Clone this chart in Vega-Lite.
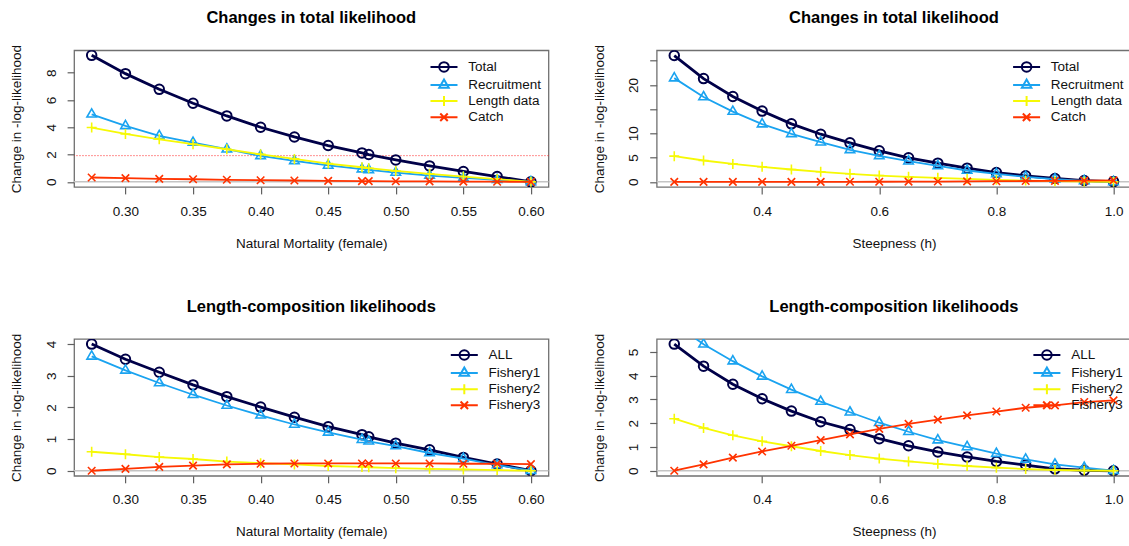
{
"$schema": "https://vega.github.io/schema/vega-lite/v6.json",
"background": "white",
"padding": {"left": 8.1, "top": 9.3, "right": 0, "bottom": 0},
"datasets": {
"p1": [
{"x":0.275,"series":"Total","y":9.27},{"x":0.3,"series":"Total","y":7.93},{"x":0.325,"series":"Total","y":6.78},{"x":0.35,"series":"Total","y":5.76},{"x":0.375,"series":"Total","y":4.83},{"x":0.4,"series":"Total","y":4.0},{"x":0.425,"series":"Total","y":3.29},{"x":0.45,"series":"Total","y":2.66},{"x":0.475,"series":"Total","y":2.12},{"x":0.48,"series":"Total","y":2.0},{"x":0.5,"series":"Total","y":1.61},{"x":0.525,"series":"Total","y":1.17},{"x":0.55,"series":"Total","y":0.76},{"x":0.575,"series":"Total","y":0.39},{"x":0.6,"series":"Total","y":0},
{"x":0.275,"series":"Recruitment","y":4.95},{"x":0.3,"series":"Recruitment","y":4.1},{"x":0.325,"series":"Recruitment","y":3.37},{"x":0.35,"series":"Recruitment","y":2.88},{"x":0.375,"series":"Recruitment","y":2.39},{"x":0.4,"series":"Recruitment","y":1.9},{"x":0.425,"series":"Recruitment","y":1.54},{"x":0.45,"series":"Recruitment","y":1.2},{"x":0.475,"series":"Recruitment","y":0.93},{"x":0.48,"series":"Recruitment","y":0.88},{"x":0.5,"series":"Recruitment","y":0.68},{"x":0.525,"series":"Recruitment","y":0.46},{"x":0.55,"series":"Recruitment","y":0.29},{"x":0.575,"series":"Recruitment","y":0.15},{"x":0.6,"series":"Recruitment","y":0},
{"x":0.275,"series":"Length data","y":3.98},{"x":0.3,"series":"Length data","y":3.51},{"x":0.325,"series":"Length data","y":3.12},{"x":0.35,"series":"Length data","y":2.76},{"x":0.375,"series":"Length data","y":2.39},{"x":0.4,"series":"Length data","y":2.02},{"x":0.425,"series":"Length data","y":1.68},{"x":0.45,"series":"Length data","y":1.34},{"x":0.475,"series":"Length data","y":1.07},{"x":0.48,"series":"Length data","y":1.0},{"x":0.5,"series":"Length data","y":0.8},{"x":0.525,"series":"Length data","y":0.59},{"x":0.55,"series":"Length data","y":0.39},{"x":0.575,"series":"Length data","y":0.2},{"x":0.6,"series":"Length data","y":0},
{"x":0.275,"series":"Catch","y":0.32},{"x":0.3,"series":"Catch","y":0.27},{"x":0.325,"series":"Catch","y":0.22},{"x":0.35,"series":"Catch","y":0.19},{"x":0.375,"series":"Catch","y":0.15},{"x":0.4,"series":"Catch","y":0.12},{"x":0.425,"series":"Catch","y":0.1},{"x":0.45,"series":"Catch","y":0.07},{"x":0.475,"series":"Catch","y":0.05},{"x":0.48,"series":"Catch","y":0.05},{"x":0.5,"series":"Catch","y":0.04},{"x":0.525,"series":"Catch","y":0.03},{"x":0.55,"series":"Catch","y":0.02},{"x":0.575,"series":"Catch","y":0.01},{"x":0.6,"series":"Catch","y":0}
],
"p2": [
{"x":0.25,"series":"Total","y":26.06},{"x":0.3,"series":"Total","y":21.3},{"x":0.35,"series":"Total","y":17.6},{"x":0.4,"series":"Total","y":14.6},{"x":0.45,"series":"Total","y":11.96},{"x":0.5,"series":"Total","y":9.83},{"x":0.55,"series":"Total","y":8.04},{"x":0.6,"series":"Total","y":6.39},{"x":0.65,"series":"Total","y":4.95},{"x":0.7,"series":"Total","y":3.85},{"x":0.75,"series":"Total","y":2.82},{"x":0.8,"series":"Total","y":1.92},{"x":0.85,"series":"Total","y":1.24},{"x":0.9,"series":"Total","y":0.69},{"x":0.95,"series":"Total","y":0.27},{"x":1.0,"series":"Total","y":0.05},
{"x":0.25,"series":"Recruitment","y":21.4},{"x":0.3,"series":"Recruitment","y":17.5},{"x":0.35,"series":"Recruitment","y":14.5},{"x":0.4,"series":"Recruitment","y":11.9},{"x":0.45,"series":"Recruitment","y":9.9},{"x":0.5,"series":"Recruitment","y":8.18},{"x":0.55,"series":"Recruitment","y":6.6},{"x":0.6,"series":"Recruitment","y":5.36},{"x":0.65,"series":"Recruitment","y":4.26},{"x":0.7,"series":"Recruitment","y":3.3},{"x":0.75,"series":"Recruitment","y":2.34},{"x":0.8,"series":"Recruitment","y":1.65},{"x":0.85,"series":"Recruitment","y":1.03},{"x":0.9,"series":"Recruitment","y":0.55},{"x":0.95,"series":"Recruitment","y":0.2},{"x":1.0,"series":"Recruitment","y":0},
{"x":0.25,"series":"Length data","y":5.3},{"x":0.3,"series":"Length data","y":4.4},{"x":0.35,"series":"Length data","y":3.7},{"x":0.4,"series":"Length data","y":3.1},{"x":0.45,"series":"Length data","y":2.55},{"x":0.5,"series":"Length data","y":2.07},{"x":0.55,"series":"Length data","y":1.66},{"x":0.6,"series":"Length data","y":1.3},{"x":0.65,"series":"Length data","y":1.03},{"x":0.7,"series":"Length data","y":0.82},{"x":0.75,"series":"Length data","y":0.62},{"x":0.8,"series":"Length data","y":0.41},{"x":0.85,"series":"Length data","y":0.27},{"x":0.9,"series":"Length data","y":0.14},{"x":0.95,"series":"Length data","y":0.07},{"x":1.0,"series":"Length data","y":0},
{"x":0.25,"series":"Catch","y":0},{"x":0.3,"series":"Catch","y":0},{"x":0.35,"series":"Catch","y":0},{"x":0.4,"series":"Catch","y":0},{"x":0.45,"series":"Catch","y":0},{"x":0.5,"series":"Catch","y":0},{"x":0.55,"series":"Catch","y":0.01},{"x":0.6,"series":"Catch","y":0.02},{"x":0.65,"series":"Catch","y":0.04},{"x":0.7,"series":"Catch","y":0.06},{"x":0.75,"series":"Catch","y":0.09},{"x":0.8,"series":"Catch","y":0.13},{"x":0.85,"series":"Catch","y":0.17},{"x":0.9,"series":"Catch","y":0.21},{"x":0.95,"series":"Catch","y":0.25},{"x":1.0,"series":"Catch","y":0.3}
],
"p3": [
{"x":0.275,"series":"ALL","y":4.0},{"x":0.3,"series":"ALL","y":3.52},{"x":0.325,"series":"ALL","y":3.11},{"x":0.35,"series":"ALL","y":2.71},{"x":0.375,"series":"ALL","y":2.34},{"x":0.4,"series":"ALL","y":2.01},{"x":0.425,"series":"ALL","y":1.69},{"x":0.45,"series":"ALL","y":1.39},{"x":0.475,"series":"ALL","y":1.14},{"x":0.48,"series":"ALL","y":1.07},{"x":0.5,"series":"ALL","y":0.87},{"x":0.525,"series":"ALL","y":0.66},{"x":0.55,"series":"ALL","y":0.42},{"x":0.575,"series":"ALL","y":0.21},{"x":0.6,"series":"ALL","y":0},
{"x":0.275,"series":"Fishery1","y":3.61},{"x":0.3,"series":"Fishery1","y":3.17},{"x":0.325,"series":"Fishery1","y":2.77},{"x":0.35,"series":"Fishery1","y":2.4},{"x":0.375,"series":"Fishery1","y":2.06},{"x":0.4,"series":"Fishery1","y":1.75},{"x":0.425,"series":"Fishery1","y":1.46},{"x":0.45,"series":"Fishery1","y":1.21},{"x":0.475,"series":"Fishery1","y":0.98},{"x":0.48,"series":"Fishery1","y":0.93},{"x":0.5,"series":"Fishery1","y":0.78},{"x":0.525,"series":"Fishery1","y":0.56},{"x":0.55,"series":"Fishery1","y":0.38},{"x":0.575,"series":"Fishery1","y":0.18},{"x":0.6,"series":"Fishery1","y":0},
{"x":0.275,"series":"Fishery2","y":0.6},{"x":0.3,"series":"Fishery2","y":0.52},{"x":0.325,"series":"Fishery2","y":0.43},{"x":0.35,"series":"Fishery2","y":0.37},{"x":0.375,"series":"Fishery2","y":0.29},{"x":0.4,"series":"Fishery2","y":0.24},{"x":0.425,"series":"Fishery2","y":0.2},{"x":0.45,"series":"Fishery2","y":0.15},{"x":0.475,"series":"Fishery2","y":0.12},{"x":0.48,"series":"Fishery2","y":0.11},{"x":0.5,"series":"Fishery2","y":0.08},{"x":0.525,"series":"Fishery2","y":0.06},{"x":0.55,"series":"Fishery2","y":0.04},{"x":0.575,"series":"Fishery2","y":0.02},{"x":0.6,"series":"Fishery2","y":0},
{"x":0.275,"series":"Fishery3","y":0},{"x":0.3,"series":"Fishery3","y":0.06},{"x":0.325,"series":"Fishery3","y":0.12},{"x":0.35,"series":"Fishery3","y":0.16},{"x":0.375,"series":"Fishery3","y":0.2},{"x":0.4,"series":"Fishery3","y":0.22},{"x":0.425,"series":"Fishery3","y":0.23},{"x":0.45,"series":"Fishery3","y":0.23},{"x":0.475,"series":"Fishery3","y":0.23},{"x":0.48,"series":"Fishery3","y":0.23},{"x":0.5,"series":"Fishery3","y":0.23},{"x":0.525,"series":"Fishery3","y":0.23},{"x":0.55,"series":"Fishery3","y":0.22},{"x":0.575,"series":"Fishery3","y":0.22},{"x":0.6,"series":"Fishery3","y":0.21}
],
"p4": [
{"x":0.25,"series":"ALL","y":5.33},{"x":0.3,"series":"ALL","y":4.4},{"x":0.35,"series":"ALL","y":3.64},{"x":0.4,"series":"ALL","y":3.03},{"x":0.45,"series":"ALL","y":2.51},{"x":0.5,"series":"ALL","y":2.06},{"x":0.55,"series":"ALL","y":1.73},{"x":0.6,"series":"ALL","y":1.35},{"x":0.65,"series":"ALL","y":1.05},{"x":0.7,"series":"ALL","y":0.79},{"x":0.75,"series":"ALL","y":0.58},{"x":0.8,"series":"ALL","y":0.39},{"x":0.85,"series":"ALL","y":0.24},{"x":0.9,"series":"ALL","y":0.08},{"x":0.95,"series":"ALL","y":0.02},{"x":1.0,"series":"ALL","y":0},
{"x":0.25,"series":"Fishery1","y":6.2},{"x":0.3,"series":"Fishery1","y":5.32},{"x":0.35,"series":"Fishery1","y":4.61},{"x":0.4,"series":"Fishery1","y":3.97},{"x":0.45,"series":"Fishery1","y":3.41},{"x":0.5,"series":"Fishery1","y":2.91},{"x":0.55,"series":"Fishery1","y":2.46},{"x":0.6,"series":"Fishery1","y":2.02},{"x":0.65,"series":"Fishery1","y":1.64},{"x":0.7,"series":"Fishery1","y":1.29},{"x":0.75,"series":"Fishery1","y":1.0},{"x":0.8,"series":"Fishery1","y":0.72},{"x":0.85,"series":"Fishery1","y":0.48},{"x":0.9,"series":"Fishery1","y":0.27},{"x":0.95,"series":"Fishery1","y":0.13},{"x":1.0,"series":"Fishery1","y":0},
{"x":0.25,"series":"Fishery2","y":2.19},{"x":0.3,"series":"Fishery2","y":1.8},{"x":0.35,"series":"Fishery2","y":1.49},{"x":0.4,"series":"Fishery2","y":1.24},{"x":0.45,"series":"Fishery2","y":1.03},{"x":0.5,"series":"Fishery2","y":0.83},{"x":0.55,"series":"Fishery2","y":0.66},{"x":0.6,"series":"Fishery2","y":0.51},{"x":0.65,"series":"Fishery2","y":0.39},{"x":0.7,"series":"Fishery2","y":0.29},{"x":0.75,"series":"Fishery2","y":0.2},{"x":0.8,"series":"Fishery2","y":0.13},{"x":0.85,"series":"Fishery2","y":0.07},{"x":0.9,"series":"Fishery2","y":0.03},{"x":0.95,"series":"Fishery2","y":0.01},{"x":1.0,"series":"Fishery2","y":0},
{"x":0.25,"series":"Fishery3","y":0},{"x":0.3,"series":"Fishery3","y":0.27},{"x":0.35,"series":"Fishery3","y":0.55},{"x":0.4,"series":"Fishery3","y":0.81},{"x":0.45,"series":"Fishery3","y":1.05},{"x":0.5,"series":"Fishery3","y":1.29},{"x":0.55,"series":"Fishery3","y":1.53},{"x":0.6,"series":"Fishery3","y":1.76},{"x":0.65,"series":"Fishery3","y":1.97},{"x":0.7,"series":"Fishery3","y":2.15},{"x":0.75,"series":"Fishery3","y":2.33},{"x":0.8,"series":"Fishery3","y":2.49},{"x":0.85,"series":"Fishery3","y":2.65},{"x":0.9,"series":"Fishery3","y":2.75},{"x":0.95,"series":"Fishery3","y":2.89},{"x":1.0,"series":"Fishery3","y":2.96}
]
},
"columns": 2,
"spacing": {"row": 151.7, "column": 107.6},
"bounds": "flush",
"resolve": {"scale": {"color": "independent", "shape": "independent"}, "legend": {"color": "independent", "shape": "independent"}},
"concat": [
{
"title": "Changes in total likelihood",
"width": 474.4, "height": 136.6,
"data": {"name": "p1"},
"layer": [
{"mark": {"type": "point", "filled": false, "size": 100, "strokeWidth": 2, "opacity": 0, "clip": true},
 "encoding": {
  "x": {"field": "x", "type": "quantitative", "scale": {"domain": [0.262, 0.613], "nice": false, "zero": false}, "axis": {"values": [0.3, 0.35, 0.4, 0.45, 0.5, 0.55, 0.6], "tickCount": 30, "format": ".2f", "labelOverlap": false, "title": "Natural Mortality (female)"}},
  "y": {"field": "y", "type": "quantitative", "scale": {"domain": [-0.37, 9.64], "nice": false, "zero": false}, "axis": {"values": [0, 2, 4, 6, 8], "tickCount": 30, "format": "d", "labelOverlap": false, "title": "Change in -log-likelihood"}},
  "color": {"field": "series", "type": "nominal", "scale": {"domain": ["Total", "Recruitment", "Length data", "Catch"], "range": ["#000048", "#1AA3F0", "#F6F905", "#FF3300"]}, "legend": {"title": null, "orient": "none", "legendX": 356.4, "legendY": 9.85, "symbolOpacity": 1}},
  "shape": {"field": "series", "type": "nominal", "scale": {"domain": ["Total", "Recruitment", "Length data", "Catch"], "range": ["M-2.7,0L2.7,0M-0.95,0A0.95,0.95,0,1,1,0.95,0A0.95,0.95,0,1,1,-0.95,0Z", "M-2.7,0L2.7,0M0,-1.1L0.95,0.55L-0.95,0.55Z", "M-2.7,0L2.7,0M0,-1L0,1", "M-2.7,0L2.7,0M-0.75,-0.75L0.75,0.75M-0.75,0.75L0.75,-0.75"]}, "legend": {"title": null, "orient": "none", "legendX": 356.4, "legendY": 9.85, "symbolOpacity": 1}}}},
{"data": {"values": [{}]}, "mark": {"type": "rule", "color": "#c4c4c4", "strokeWidth": 1.5}, "encoding": {"y": {"datum": 0}}},
{"data": {"values": [{}]}, "mark": {"type": "rule", "color": "#ff2020", "strokeWidth": 1, "strokeDash": [1, 2]}, "encoding": {"y": {"datum": 1.92}}},
{"transform": [{"filter": "datum.series == 'Total'"}], "mark": {"type": "line", "strokeWidth": 2.8, "clip": true},
 "encoding": {"x": {"field": "x", "type": "quantitative"}, "y": {"field": "y", "type": "quantitative"}, "color": {"field": "series", "type": "nominal", "legend": null}}},
{"transform": [{"filter": "datum.series == 'Total'"}], "mark": {"type": "point", "shape": "M-0.95,0A0.95,0.95,0,1,1,0.95,0A0.95,0.95,0,1,1,-0.95,0Z", "filled": false, "size": 100, "strokeWidth": 2, "opacity": 1, "clip": true},
 "encoding": {"x": {"field": "x", "type": "quantitative"}, "y": {"field": "y", "type": "quantitative"}, "color": {"field": "series", "type": "nominal", "legend": null}}},
{"transform": [{"filter": "datum.series == 'Recruitment'"}], "mark": {"type": "line", "strokeWidth": 1.8, "clip": true},
 "encoding": {"x": {"field": "x", "type": "quantitative"}, "y": {"field": "y", "type": "quantitative"}, "color": {"field": "series", "type": "nominal", "legend": null}}},
{"transform": [{"filter": "datum.series == 'Recruitment'"}], "mark": {"type": "point", "shape": "M0,-1.1L0.95,0.55L-0.95,0.55Z", "filled": false, "size": 100, "strokeWidth": 1.6, "opacity": 1, "clip": true},
 "encoding": {"x": {"field": "x", "type": "quantitative"}, "y": {"field": "y", "type": "quantitative"}, "color": {"field": "series", "type": "nominal", "legend": null}}},
{"transform": [{"filter": "datum.series == 'Length data'"}], "mark": {"type": "line", "strokeWidth": 1.8, "clip": true},
 "encoding": {"x": {"field": "x", "type": "quantitative"}, "y": {"field": "y", "type": "quantitative"}, "color": {"field": "series", "type": "nominal", "legend": null}}},
{"transform": [{"filter": "datum.series == 'Length data'"}], "mark": {"type": "point", "shape": "M-1,0L1,0M0,-1L0,1", "filled": false, "size": 100, "strokeWidth": 1.6, "opacity": 1, "clip": true},
 "encoding": {"x": {"field": "x", "type": "quantitative"}, "y": {"field": "y", "type": "quantitative"}, "color": {"field": "series", "type": "nominal", "legend": null}}},
{"transform": [{"filter": "datum.series == 'Catch'"}], "mark": {"type": "line", "strokeWidth": 1.8, "clip": true},
 "encoding": {"x": {"field": "x", "type": "quantitative"}, "y": {"field": "y", "type": "quantitative"}, "color": {"field": "series", "type": "nominal", "legend": null}}},
{"transform": [{"filter": "datum.series == 'Catch'"}], "mark": {"type": "point", "shape": "M-0.75,-0.75L0.75,0.75M-0.75,0.75L0.75,-0.75", "filled": false, "size": 100, "strokeWidth": 1.6, "opacity": 1, "clip": true},
 "encoding": {"x": {"field": "x", "type": "quantitative"}, "y": {"field": "y", "type": "quantitative"}, "color": {"field": "series", "type": "nominal", "legend": null}}}
]
},
{
"title": "Changes in total likelihood",
"width": 474.4, "height": 136.6,
"data": {"name": "p2"},
"layer": [
{"mark": {"type": "point", "filled": false, "size": 100, "strokeWidth": 2, "opacity": 0, "clip": true},
 "encoding": {
  "x": {"field": "x", "type": "quantitative", "scale": {"domain": [0.22, 1.03], "nice": false, "zero": false}, "axis": {"values": [0.4, 0.6, 0.8, 1.0], "tickCount": 30, "format": ".1f", "labelOverlap": false, "title": "Steepness (h)"}},
  "y": {"field": "y", "type": "quantitative", "scale": {"domain": [-1.044, 27.14], "nice": false, "zero": false}, "axis": {"values": [0, 5, 10, 15, 20, 25], "tickCount": 30, "format": "d", "labelOverlap": false, "labelExpr": "datum.value == 15 || datum.value == 25 ? '' : datum.label", "title": "Change in -log-likelihood"}},
  "color": {"field": "series", "type": "nominal", "scale": {"domain": ["Total", "Recruitment", "Length data", "Catch"], "range": ["#000048", "#1AA3F0", "#F6F905", "#FF3300"]}, "legend": {"title": null, "orient": "none", "legendX": 356.4, "legendY": 9.85, "symbolOpacity": 1}},
  "shape": {"field": "series", "type": "nominal", "scale": {"domain": ["Total", "Recruitment", "Length data", "Catch"], "range": ["M-2.7,0L2.7,0M-0.95,0A0.95,0.95,0,1,1,0.95,0A0.95,0.95,0,1,1,-0.95,0Z", "M-2.7,0L2.7,0M0,-1.1L0.95,0.55L-0.95,0.55Z", "M-2.7,0L2.7,0M0,-1L0,1", "M-2.7,0L2.7,0M-0.75,-0.75L0.75,0.75M-0.75,0.75L0.75,-0.75"]}, "legend": {"title": null, "orient": "none", "legendX": 356.4, "legendY": 9.85, "symbolOpacity": 1}}}},
{"data": {"values": [{}]}, "mark": {"type": "rule", "color": "#c4c4c4", "strokeWidth": 1.5}, "encoding": {"y": {"datum": 0}}},
{"transform": [{"filter": "datum.series == 'Total'"}], "mark": {"type": "line", "strokeWidth": 2.8, "clip": true},
 "encoding": {"x": {"field": "x", "type": "quantitative"}, "y": {"field": "y", "type": "quantitative"}, "color": {"field": "series", "type": "nominal", "legend": null}}},
{"transform": [{"filter": "datum.series == 'Total'"}], "mark": {"type": "point", "shape": "M-0.95,0A0.95,0.95,0,1,1,0.95,0A0.95,0.95,0,1,1,-0.95,0Z", "filled": false, "size": 100, "strokeWidth": 2, "opacity": 1, "clip": true},
 "encoding": {"x": {"field": "x", "type": "quantitative"}, "y": {"field": "y", "type": "quantitative"}, "color": {"field": "series", "type": "nominal", "legend": null}}},
{"transform": [{"filter": "datum.series == 'Recruitment'"}], "mark": {"type": "line", "strokeWidth": 1.8, "clip": true},
 "encoding": {"x": {"field": "x", "type": "quantitative"}, "y": {"field": "y", "type": "quantitative"}, "color": {"field": "series", "type": "nominal", "legend": null}}},
{"transform": [{"filter": "datum.series == 'Recruitment'"}], "mark": {"type": "point", "shape": "M0,-1.1L0.95,0.55L-0.95,0.55Z", "filled": false, "size": 100, "strokeWidth": 1.6, "opacity": 1, "clip": true},
 "encoding": {"x": {"field": "x", "type": "quantitative"}, "y": {"field": "y", "type": "quantitative"}, "color": {"field": "series", "type": "nominal", "legend": null}}},
{"transform": [{"filter": "datum.series == 'Length data'"}], "mark": {"type": "line", "strokeWidth": 1.8, "clip": true},
 "encoding": {"x": {"field": "x", "type": "quantitative"}, "y": {"field": "y", "type": "quantitative"}, "color": {"field": "series", "type": "nominal", "legend": null}}},
{"transform": [{"filter": "datum.series == 'Length data'"}], "mark": {"type": "point", "shape": "M-1,0L1,0M0,-1L0,1", "filled": false, "size": 100, "strokeWidth": 1.6, "opacity": 1, "clip": true},
 "encoding": {"x": {"field": "x", "type": "quantitative"}, "y": {"field": "y", "type": "quantitative"}, "color": {"field": "series", "type": "nominal", "legend": null}}},
{"transform": [{"filter": "datum.series == 'Catch'"}], "mark": {"type": "line", "strokeWidth": 1.8, "clip": true},
 "encoding": {"x": {"field": "x", "type": "quantitative"}, "y": {"field": "y", "type": "quantitative"}, "color": {"field": "series", "type": "nominal", "legend": null}}},
{"transform": [{"filter": "datum.series == 'Catch'"}], "mark": {"type": "point", "shape": "M-0.75,-0.75L0.75,0.75M-0.75,0.75L0.75,-0.75", "filled": false, "size": 100, "strokeWidth": 1.6, "opacity": 1, "clip": true},
 "encoding": {"x": {"field": "x", "type": "quantitative"}, "y": {"field": "y", "type": "quantitative"}, "color": {"field": "series", "type": "nominal", "legend": null}}}
]
},
{
"title": "Length-composition likelihoods",
"width": 474.4, "height": 136.8,
"data": {"name": "p3"},
"layer": [
{"mark": {"type": "point", "filled": false, "size": 100, "strokeWidth": 2, "opacity": 0, "clip": true},
 "encoding": {
  "x": {"field": "x", "type": "quantitative", "scale": {"domain": [0.262, 0.613], "nice": false, "zero": false}, "axis": {"values": [0.3, 0.35, 0.4, 0.45, 0.5, 0.55, 0.6], "tickCount": 30, "format": ".2f", "labelOverlap": false, "title": "Natural Mortality (female)"}},
  "y": {"field": "y", "type": "quantitative", "scale": {"domain": [-0.16, 4.16], "nice": false, "zero": false}, "axis": {"values": [0, 1, 2, 3, 4], "tickCount": 30, "format": "d", "labelOverlap": false, "title": "Change in -log-likelihood"}},
  "color": {"field": "series", "type": "nominal", "scale": {"domain": ["ALL", "Fishery1", "Fishery2", "Fishery3"], "range": ["#000048", "#1AA3F0", "#F6F905", "#FF3300"]}, "legend": {"title": null, "orient": "none", "legendX": 376.7, "legendY": 9.25, "symbolOpacity": 1}},
  "shape": {"field": "series", "type": "nominal", "scale": {"domain": ["ALL", "Fishery1", "Fishery2", "Fishery3"], "range": ["M-2.7,0L2.7,0M-0.95,0A0.95,0.95,0,1,1,0.95,0A0.95,0.95,0,1,1,-0.95,0Z", "M-2.7,0L2.7,0M0,-1.1L0.95,0.55L-0.95,0.55Z", "M-2.7,0L2.7,0M0,-1L0,1", "M-2.7,0L2.7,0M-0.75,-0.75L0.75,0.75M-0.75,0.75L0.75,-0.75"]}, "legend": {"title": null, "orient": "none", "legendX": 376.7, "legendY": 9.25, "symbolOpacity": 1}}}},
{"data": {"values": [{}]}, "mark": {"type": "rule", "color": "#c4c4c4", "strokeWidth": 1.5}, "encoding": {"y": {"datum": 0}}},
{"transform": [{"filter": "datum.series == 'ALL'"}], "mark": {"type": "line", "strokeWidth": 2.8, "clip": true},
 "encoding": {"x": {"field": "x", "type": "quantitative"}, "y": {"field": "y", "type": "quantitative"}, "color": {"field": "series", "type": "nominal", "legend": null}}},
{"transform": [{"filter": "datum.series == 'ALL'"}], "mark": {"type": "point", "shape": "M-0.95,0A0.95,0.95,0,1,1,0.95,0A0.95,0.95,0,1,1,-0.95,0Z", "filled": false, "size": 100, "strokeWidth": 2, "opacity": 1, "clip": true},
 "encoding": {"x": {"field": "x", "type": "quantitative"}, "y": {"field": "y", "type": "quantitative"}, "color": {"field": "series", "type": "nominal", "legend": null}}},
{"transform": [{"filter": "datum.series == 'Fishery1'"}], "mark": {"type": "line", "strokeWidth": 1.8, "clip": true},
 "encoding": {"x": {"field": "x", "type": "quantitative"}, "y": {"field": "y", "type": "quantitative"}, "color": {"field": "series", "type": "nominal", "legend": null}}},
{"transform": [{"filter": "datum.series == 'Fishery1'"}], "mark": {"type": "point", "shape": "M0,-1.1L0.95,0.55L-0.95,0.55Z", "filled": false, "size": 100, "strokeWidth": 1.6, "opacity": 1, "clip": true},
 "encoding": {"x": {"field": "x", "type": "quantitative"}, "y": {"field": "y", "type": "quantitative"}, "color": {"field": "series", "type": "nominal", "legend": null}}},
{"transform": [{"filter": "datum.series == 'Fishery2'"}], "mark": {"type": "line", "strokeWidth": 1.8, "clip": true},
 "encoding": {"x": {"field": "x", "type": "quantitative"}, "y": {"field": "y", "type": "quantitative"}, "color": {"field": "series", "type": "nominal", "legend": null}}},
{"transform": [{"filter": "datum.series == 'Fishery2'"}], "mark": {"type": "point", "shape": "M-1,0L1,0M0,-1L0,1", "filled": false, "size": 100, "strokeWidth": 1.6, "opacity": 1, "clip": true},
 "encoding": {"x": {"field": "x", "type": "quantitative"}, "y": {"field": "y", "type": "quantitative"}, "color": {"field": "series", "type": "nominal", "legend": null}}},
{"transform": [{"filter": "datum.series == 'Fishery3'"}], "mark": {"type": "line", "strokeWidth": 1.8, "clip": true},
 "encoding": {"x": {"field": "x", "type": "quantitative"}, "y": {"field": "y", "type": "quantitative"}, "color": {"field": "series", "type": "nominal", "legend": null}}},
{"transform": [{"filter": "datum.series == 'Fishery3'"}], "mark": {"type": "point", "shape": "M-0.75,-0.75L0.75,0.75M-0.75,0.75L0.75,-0.75", "filled": false, "size": 100, "strokeWidth": 1.6, "opacity": 1, "clip": true},
 "encoding": {"x": {"field": "x", "type": "quantitative"}, "y": {"field": "y", "type": "quantitative"}, "color": {"field": "series", "type": "nominal", "legend": null}}}
]
},
{
"title": "Length-composition likelihoods",
"width": 474.4, "height": 136.8,
"data": {"name": "p4"},
"layer": [
{"mark": {"type": "point", "filled": false, "size": 100, "strokeWidth": 2, "opacity": 0, "clip": true},
 "encoding": {
  "x": {"field": "x", "type": "quantitative", "scale": {"domain": [0.22, 1.03], "nice": false, "zero": false}, "axis": {"values": [0.4, 0.6, 0.8, 1.0], "tickCount": 30, "format": ".1f", "labelOverlap": false, "title": "Steepness (h)"}},
  "y": {"field": "y", "type": "quantitative", "scale": {"domain": [-0.213, 5.543], "nice": false, "zero": false}, "axis": {"values": [0, 1, 2, 3, 4, 5], "tickCount": 30, "format": "d", "labelOverlap": false, "title": "Change in -log-likelihood"}},
  "color": {"field": "series", "type": "nominal", "scale": {"domain": ["ALL", "Fishery1", "Fishery2", "Fishery3"], "range": ["#000048", "#1AA3F0", "#F6F905", "#FF3300"]}, "legend": {"title": null, "orient": "none", "legendX": 376.7, "legendY": 9.25, "symbolOpacity": 1}},
  "shape": {"field": "series", "type": "nominal", "scale": {"domain": ["ALL", "Fishery1", "Fishery2", "Fishery3"], "range": ["M-2.7,0L2.7,0M-0.95,0A0.95,0.95,0,1,1,0.95,0A0.95,0.95,0,1,1,-0.95,0Z", "M-2.7,0L2.7,0M0,-1.1L0.95,0.55L-0.95,0.55Z", "M-2.7,0L2.7,0M0,-1L0,1", "M-2.7,0L2.7,0M-0.75,-0.75L0.75,0.75M-0.75,0.75L0.75,-0.75"]}, "legend": {"title": null, "orient": "none", "legendX": 376.7, "legendY": 9.25, "symbolOpacity": 1}}}},
{"data": {"values": [{}]}, "mark": {"type": "rule", "color": "#c4c4c4", "strokeWidth": 1.5}, "encoding": {"y": {"datum": 0}}},
{"transform": [{"filter": "datum.series == 'ALL'"}], "mark": {"type": "line", "strokeWidth": 2.8, "clip": true},
 "encoding": {"x": {"field": "x", "type": "quantitative"}, "y": {"field": "y", "type": "quantitative"}, "color": {"field": "series", "type": "nominal", "legend": null}}},
{"transform": [{"filter": "datum.series == 'ALL'"}], "mark": {"type": "point", "shape": "M-0.95,0A0.95,0.95,0,1,1,0.95,0A0.95,0.95,0,1,1,-0.95,0Z", "filled": false, "size": 100, "strokeWidth": 2, "opacity": 1, "clip": true},
 "encoding": {"x": {"field": "x", "type": "quantitative"}, "y": {"field": "y", "type": "quantitative"}, "color": {"field": "series", "type": "nominal", "legend": null}}},
{"transform": [{"filter": "datum.series == 'Fishery1'"}], "mark": {"type": "line", "strokeWidth": 1.8, "clip": true},
 "encoding": {"x": {"field": "x", "type": "quantitative"}, "y": {"field": "y", "type": "quantitative"}, "color": {"field": "series", "type": "nominal", "legend": null}}},
{"transform": [{"filter": "datum.series == 'Fishery1'"}], "mark": {"type": "point", "shape": "M0,-1.1L0.95,0.55L-0.95,0.55Z", "filled": false, "size": 100, "strokeWidth": 1.6, "opacity": 1, "clip": true},
 "encoding": {"x": {"field": "x", "type": "quantitative"}, "y": {"field": "y", "type": "quantitative"}, "color": {"field": "series", "type": "nominal", "legend": null}}},
{"transform": [{"filter": "datum.series == 'Fishery2'"}], "mark": {"type": "line", "strokeWidth": 1.8, "clip": true},
 "encoding": {"x": {"field": "x", "type": "quantitative"}, "y": {"field": "y", "type": "quantitative"}, "color": {"field": "series", "type": "nominal", "legend": null}}},
{"transform": [{"filter": "datum.series == 'Fishery2'"}], "mark": {"type": "point", "shape": "M-1,0L1,0M0,-1L0,1", "filled": false, "size": 100, "strokeWidth": 1.6, "opacity": 1, "clip": true},
 "encoding": {"x": {"field": "x", "type": "quantitative"}, "y": {"field": "y", "type": "quantitative"}, "color": {"field": "series", "type": "nominal", "legend": null}}},
{"transform": [{"filter": "datum.series == 'Fishery3'"}], "mark": {"type": "line", "strokeWidth": 1.8, "clip": true},
 "encoding": {"x": {"field": "x", "type": "quantitative"}, "y": {"field": "y", "type": "quantitative"}, "color": {"field": "series", "type": "nominal", "legend": null}}},
{"transform": [{"filter": "datum.series == 'Fishery3'"}], "mark": {"type": "point", "shape": "M-0.75,-0.75L0.75,0.75M-0.75,0.75L0.75,-0.75", "filled": false, "size": 100, "strokeWidth": 1.6, "opacity": 1, "clip": true},
 "encoding": {"x": {"field": "x", "type": "quantitative"}, "y": {"field": "y", "type": "quantitative"}, "color": {"field": "series", "type": "nominal", "legend": null}}}
]
}
],
"config": {
"font": "Liberation Sans",
"view": {"stroke": "#707070", "strokeWidth": 1.3},
"axis": {"grid": false, "domain": false, "ticks": true, "tickColor": "#606060", "tickSize": 7, "tickWidth": 1.2, "labelFontSize": 13.5, "labelColor": "#111111", "titleFontSize": 13.5, "titleFontWeight": "normal", "titleColor": "#111111", "labelFlush": false, "labelOverlap": false},
"axisX": {"labelPadding": 10.2, "titlePadding": 18.5},
"axisY": {"labelAngle": -90, "labelAlign": "center", "labelBaseline": "bottom", "labelPadding": 9, "titlePadding": 20.6},
"title": {"fontSize": 16.5, "fontWeight": "bold", "anchor": "middle", "frame": "group", "offset": 17.5, "baseline": "alphabetic", "color": "#000000"},
"legend": {"padding": 0, "direction": "vertical", "labelFontSize": 13.5, "labelColor": "#111111", "symbolSize": 100, "symbolStrokeWidth": 2, "symbolOffset": 6.75, "labelOffset": 17.5, "rowPadding": -0.9}
}
}
